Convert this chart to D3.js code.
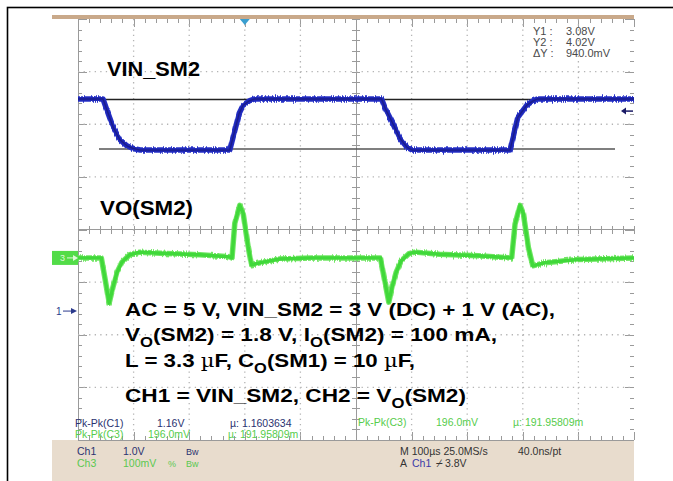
<!DOCTYPE html>
<html>
<head>
<meta charset="utf-8">
<script src="https://cdn.jsdelivr.net/npm/d3@7"></script>
<style>
  body { margin: 0; background: #fff; }
  svg { display: block; font-family: "Liberation Sans", Arial, sans-serif; }
</style>
</head>
<body>
<svg id="chart" width="673" height="481"></svg>
<script>
// ---- Acquisition settings -------------------------------------------------
const timePerDiv = 100;      // µs / div
const ch1VoltsPerDiv = 1.0;  // V / div
const ch3MvPerDiv = 100;     // mV / div
const ch1Position = -1.55;   // ground marker offset, divisions
const ch3Position = -0.54;   // divisions
const triggerTime = 300;     // µs
const triggerLevel = 3.8;    // V

// ---- CH1: VIN_SM2 (V) ------------------------------------------------------
const vinTime = [0, 45, 52, 63, 75, 88, 99, 112, 273, 282, 290, 297, 309, 318,
                 546, 553, 566, 579, 592, 601, 777, 791, 807, 818, 826, 1000];
const vinVolt = [4.03, 4.03, 3.82, 3.50, 3.26, 3.14, 3.09, 3.06, 3.06, 3.43, 3.76, 3.91, 4.00, 4.03,
                 4.03, 3.84, 3.57, 3.28, 3.11, 3.06, 3.06, 3.68, 3.91, 3.99, 4.03, 4.03];

// ---- CH3: VO(SM2) ripple (mV) ----------------------------------------------
const voTime = [0, 42, 49, 56, 63, 70, 79, 93, 111, 148, 219, 273, 277, 282, 291, 297, 306, 312, 333, 363,
                420, 500, 544, 551, 559, 565, 572, 581, 595, 606, 650, 720, 780, 786, 795, 801, 810, 818,
                840, 900, 1000];
const voMv = [0, 0, -42, -86, -55, -28, -8, 6, 11, 9, 6, 2, 0, 66, 100, 85, 21, -13, -8, -2,
              0, 0, 0, -40, -84, -55, -28, -6, 8, 11, 7, 4, 0, 64, 100, 84, 20, -15,
              -9, -3, 0];

// ---- Cursors ---------------------------------------------------------------
const cursorVolts = [3.08, 4.02];
const cursorNames = ["Y1 :", "Y2 :", "ΔY :"];
const cursorTexts = ["3.08V", "4.02V", "940.0mV"];

// ---- Measurements / status -------------------------------------------------
const measC1 = ["Pk-Pk(C1)", "1.16V", "µ: 1.1603634"];
const measC3 = ["Pk-Pk(C3)", "196.0mV", "µ: 191.95809m"];
const statusCh1 = ["Ch1", "1.0V", "", "Bw"];
const statusCh3 = ["Ch3", "100mV", "%", "Bw"];
const statusTime = ["M 100µs 25.0MS/s", "40.0ns/pt"];
const statusTrig = ["A", "Ch1", "⌿", "3.8V"];

// ---- Annotations -----------------------------------------------------------
const traceLabels = ["VIN_SM2", "VO(SM2)"];
const noteLines = [
  [["AC = 5 V, VIN_SM2 = 3 V (DC) + 1 V (AC),"]],
  [["V"], ["O", "sub"], ["(SM2) = 1.8 V, I"], ["O", "sub"], ["(SM2) = 100 mA,"]],
  [["L = 3.3 "], ["µ", "mu"], ["F, C"], ["O", "sub"], ["(SM1) = 10 "], ["µ", "mu"], ["F,"]],
  [["CH1 = VIN_SM2, CH2 = V"], ["O", "sub"], ["(SM2)"]]
];

// ---- Layout ------------------------------------------------------------------
const svg = d3.select("#chart");
const gx0 = 78, gx1 = 634, gy0 = 19, gy1 = 440;   // graticule
const screenLeft = 52;

const xDiv = d3.scaleLinear().domain([-5, 5]).range([gx0, gx1]);
const yDiv = d3.scaleLinear().domain([-4, 4]).range([gy1, gy0]);
const x = d3.scaleLinear().domain([0, 10 * timePerDiv]).range([gx0, gx1]);
const ch1 = d3.scaleLinear()
  .domain([(-4 - ch1Position) * ch1VoltsPerDiv, (4 - ch1Position) * ch1VoltsPerDiv])
  .range([gy1, gy0]);
const ch3 = d3.scaleLinear()
  .domain([(-4 - ch3Position) * ch3MvPerDiv, (4 - ch3Position) * ch3MvPerDiv])
  .range([gy1, gy0]);

// trace noise: vertical-only jitter of the stroked band
const defs = svg.append("defs");
function jitter(id, seed, amount) {
  const f = defs.append("filter").attr("id", id)
    .attr("x", "-2%").attr("y", "-20%").attr("width", "104%").attr("height", "140%");
  f.append("feTurbulence").attr("type", "fractalNoise").attr("baseFrequency", "0.9 0.02")
    .attr("numOctaves", 2).attr("seed", seed).attr("result", "n");
  f.append("feColorMatrix").attr("in", "n").attr("type", "matrix")
    .attr("values", "0 0 0 0 0.5  0 1 0 0 0  0 0 0 0 0  0 0 0 0 1").attr("result", "m");
  f.append("feDisplacementMap").attr("in", "SourceGraphic").attr("in2", "m")
    .attr("scale", amount).attr("xChannelSelector", "R").attr("yChannelSelector", "G");
}
jitter("noiseBlue", 3, 6);
jitter("noiseGreen", 7, 5);

// outer frame
svg.append("rect").attr("x", 7.5).attr("y", 7.5).attr("width", 720).attr("height", 520)
  .attr("fill", "none").attr("stroke", "#000").attr("stroke-width", 1.6);

// scope top bar and bottom status panel
svg.append("rect").attr("x", screenLeft).attr("y", 15).attr("width", gx1 - screenLeft).attr("height", 4)
  .attr("fill", "#c9a98a");
svg.append("rect").attr("x", screenLeft).attr("y", gy1).attr("width", gx1 - screenLeft).attr("height", 481 - gy1)
  .attr("fill", "#e8dccd");

// ---- Graticule ---------------------------------------------------------------
const grid = svg.append("g").attr("stroke", "#9a9a9a").attr("stroke-width", 1).attr("shape-rendering", "crispEdges");
const dots = svg.append("g").attr("stroke", "#b4b4b4").attr("stroke-width", 1.3);

// dotted major lines
d3.range(-4, 5).filter(d => d !== 0).forEach(d => {
  dots.append("line").attr("x1", xDiv(d)).attr("x2", xDiv(d)).attr("y1", gy0).attr("y2", gy1)
    .attr("stroke-dasharray", "1.3 3.96");
});
d3.range(-3, 4).filter(d => d !== 0).forEach(d => {
  dots.append("line").attr("x1", gx0).attr("x2", gx1).attr("y1", yDiv(d)).attr("y2", yDiv(d))
    .attr("stroke-dasharray", "1.3 4.26");
});

// centre axes
grid.append("line").attr("x1", gx0).attr("x2", gx1).attr("y1", yDiv(0)).attr("y2", yDiv(0));
grid.append("line").attr("x1", xDiv(0)).attr("x2", xDiv(0)).attr("y1", gy0).attr("y2", gy1);
// left and bottom edges
grid.append("line").attr("x1", gx0).attr("x2", gx0).attr("y1", gy0).attr("y2", gy1);
grid.append("line").attr("x1", gx0).attr("x2", gx1).attr("y1", gy1).attr("y2", gy1);

const xMinor = d3.range(-25, 26).map(k => k / 5);
const yMinor = d3.range(-20, 21).map(k => k / 5);
const isMajor = v => Math.abs(v - Math.round(v)) < 1e-6;

xMinor.forEach(d => {
  const px = Math.round(xDiv(d)) + 0.5;
  grid.append("line").attr("x1", px).attr("x2", px).attr("y1", yDiv(0) - 4).attr("y2", yDiv(0) + 4);
  const len = isMajor(d) ? 8 : 4;
  grid.append("line").attr("x1", px).attr("x2", px).attr("y1", gy0).attr("y2", gy0 + len);
  grid.append("line").attr("x1", px).attr("x2", px).attr("y1", gy1 - len).attr("y2", gy1);
});
yMinor.forEach(d => {
  const py = Math.round(yDiv(d)) + 0.5;
  grid.append("line").attr("x1", xDiv(0) - 4).attr("x2", xDiv(0) + 4).attr("y1", py).attr("y2", py);
  const len = isMajor(d) ? 9 : 4;
  grid.append("line").attr("x1", gx0).attr("x2", gx0 + len).attr("y1", py).attr("y2", py);
  grid.append("line").attr("x1", gx1 - len).attr("x2", gx1).attr("y1", py).attr("y2", py);
});

// ---- Cursors ---------------------------------------------------------------
svg.append("line").attr("x1", 100).attr("x2", gx1).attr("y1", ch1(cursorVolts[1])).attr("y2", ch1(cursorVolts[1]))
  .attr("stroke", "#222").attr("stroke-width", 1.3);
svg.append("line").attr("x1", 99).attr("x2", 615).attr("y1", ch1(cursorVolts[0])).attr("y2", ch1(cursorVolts[0]))
  .attr("stroke", "#555").attr("stroke-width", 1.5);

// ---- Traces ------------------------------------------------------------------
const vinData = vinTime.map((t, i) => ({ t, v: vinVolt[i] }));
const voData = voTime.map((t, i) => ({ t, v: voMv[i] }));

const vinLine = d3.line().x(d => x(d.t)).y(d => ch1(d.v));
const voLine = d3.line().x(d => x(d.t)).y(d => ch3(d.v));

const greenG = svg.append("g").attr("filter", "url(#noiseGreen)");
greenG.append("path").datum(voData).attr("d", voLine).attr("fill", "none")
  .attr("stroke", "#70e664").attr("stroke-width", 5.5).attr("stroke-linejoin", "round");
svg.append("path").datum(voData).attr("d", voLine).attr("fill", "none")
  .attr("stroke", "#40d83a").attr("stroke-width", 3.4).attr("stroke-linejoin", "round");

const blueG = svg.append("g").attr("filter", "url(#noiseBlue)");
blueG.append("path").datum(vinData).attr("d", vinLine).attr("fill", "none")
  .attr("stroke", "#2632c8").attr("stroke-width", 5.5).attr("stroke-linejoin", "round");
svg.append("path").datum(vinData).attr("d", vinLine).attr("fill", "none")
  .attr("stroke", "#1f28b8").attr("stroke-width", 3.8).attr("stroke-linejoin", "round");
svg.append("path").datum(vinData).attr("d", vinLine).attr("fill", "none")
  .attr("stroke", "#1a1c8a").attr("stroke-width", 1.3).attr("stroke-linejoin", "round");

// ---- Markers -----------------------------------------------------------------
// trigger position
const tx = x(triggerTime);
svg.append("path").attr("d", `M${tx - 5},${gy0}L${tx + 5},${gy0}L${tx},${gy0 + 6}Z`).attr("fill", "#3a9fd0");
// trigger level
const ty = ch1(triggerLevel);
svg.append("line").attr("x1", gx1 - 10).attr("x2", gx1 - 1).attr("y1", ty).attr("y2", ty)
  .attr("stroke", "#1a1a66").attr("stroke-width", 1.5);
svg.append("path").attr("d", `M${gx1 - 13},${ty}L${gx1 - 8},${ty - 3.5}L${gx1 - 8},${ty + 3.5}Z`).attr("fill", "#1a1a66");
// CH3 ground marker
const c3y = ch3(0);
svg.append("rect").attr("x", screenLeft).attr("y", c3y - 7).attr("width", gx0 - screenLeft).attr("height", 14)
  .attr("fill", "#52dc48");
svg.append("text").attr("x", 60).attr("y", c3y + 3.5).attr("font-size", 9).attr("fill", "#dff8d8").text("3");
svg.append("line").attr("x1", 67).attr("x2", 75).attr("y1", c3y).attr("y2", c3y).attr("stroke", "#dff8d8");
svg.append("path").attr("d", `M${78},${c3y}L${73},${c3y - 3}L${73},${c3y + 3}Z`).attr("fill", "#dff8d8");
// CH1 ground marker
const c1y = ch1(0);
svg.append("text").attr("x", 56).attr("y", c1y + 3.5).attr("font-size", 10).attr("fill", "#2b3a8c").text("1");
svg.append("line").attr("x1", 63).attr("x2", 72).attr("y1", c1y).attr("y2", c1y).attr("stroke", "#2b3a8c");
svg.append("path").attr("d", `M${77},${c1y}L${71},${c1y - 3}L${71},${c1y + 3}Z`).attr("fill", "#2b3a8c");

// ---- Cursor readout ----------------------------------------------------------
const readout = svg.append("g").attr("font-size", 11).attr("fill", "#4a4a4a");
cursorNames.forEach((n, i) => {
  readout.append("text").attr("x", 533).attr("y", 35 + i * 11).text(n);
  readout.append("text").attr("x", 566).attr("y", 35 + i * 11).text(cursorTexts[i]);
});

// ---- Trace labels and notes -------------------------------------------------
const bold = svg.append("g").attr("font-weight", "bold").attr("fill", "#000");
bold.append("text").attr("x", 107).attr("y", 76).attr("font-size", 20)
  .attr("textLength", 93).attr("lengthAdjust", "spacingAndGlyphs").text(traceLabels[0]);
bold.append("text").attr("x", 100).attr("y", 215).attr("font-size", 20)
  .attr("textLength", 93).attr("lengthAdjust", "spacingAndGlyphs").text(traceLabels[1]);

const noteBase = [316, 341, 367, 402];
const noteWidth = [430, 372, 290, 341];
noteLines.forEach((parts, i) => {
  const t = bold.append("text").attr("x", 125).attr("y", noteBase[i]).attr("font-size", 19)
    .attr("textLength", noteWidth[i]).attr("lengthAdjust", "spacingAndGlyphs");
  let shifted = false;
  parts.forEach(([s, kind]) => {
    const sp = t.append("tspan").text(s);
    if (kind === "sub") {
      sp.attr("font-size", 14).attr("dy", 6); shifted = true;
    } else if (kind === "mu") {
      sp.attr("font-weight", "normal").attr("font-family", "'DejaVu Serif', serif").attr("font-size", 18);
      if (shifted) { sp.attr("dy", -6); shifted = false; }
    } else if (shifted) {
      sp.attr("dy", -6); shifted = false;
    }
  });
});

// ---- Measurements -----------------------------------------------------------
const meas = svg.append("g").attr("font-size", 10.5);
const measX1 = [75, 157, 230];
const measX3 = [75, 148, 228];
measC1.forEach((s, i) => meas.append("text").attr("x", measX1[i]).attr("y", 427).attr("fill", "#2a3270").text(s));
measC3.forEach((s, i) => meas.append("text").attr("x", measX3[i]).attr("y", 438).attr("fill", "#56cc4c").text(s));
const measX2 = [358, 436, 513];
measC3.forEach((s, i) => meas.append("text").attr("x", measX2[i]).attr("y", 426).attr("fill", "#56cc4c").text(s));

// ---- Status panel -------------------------------------------------------------
const stat = svg.append("g").attr("font-size", 10.5);
const statX = [77, 123, 168, 186];
statusCh1.forEach((s, i) => stat.append("text").attr("x", statX[i]).attr("y", 455)
  .attr("font-size", i === 3 ? 9 : 10.5).attr("fill", "#2a3270").text(s));
statusCh3.forEach((s, i) => stat.append("text").attr("x", statX[i]).attr("y", 467)
  .attr("font-size", i >= 2 ? 9 : 10.5).attr("fill", "#5ac850").text(s));
stat.append("text").attr("x", 400).attr("y", 455).attr("fill", "#333").text(statusTime[0]);
stat.append("text").attr("x", 518).attr("y", 455).attr("fill", "#333").text(statusTime[1]);
const trigX = [400, 412, 436, 445];
statusTrig.forEach((s, i) => stat.append("text").attr("x", trigX[i]).attr("y", 467)
  .attr("fill", i === 1 ? "#3a3aa8" : "#333").text(s));
</script>
</body>
</html>
